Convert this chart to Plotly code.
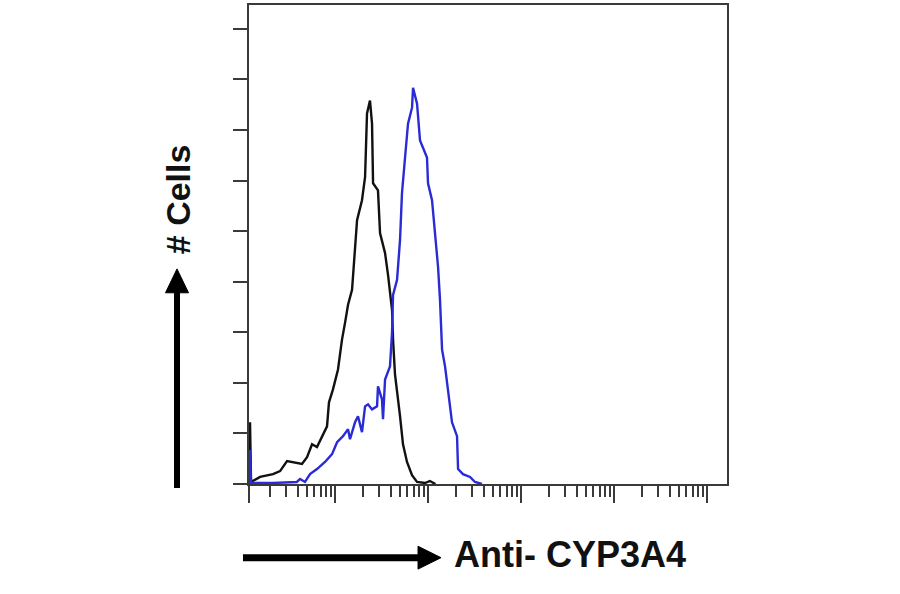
import numpy as np
import plotly.graph_objects as go

# ---- data (log10 fluorescence intensity, cell counts) ----
control_log_intensity = [0.086, 0.086, 0.097, 0.194, 0.333, 0.409, 0.484, 0.548, 0.645, 0.699,
                         0.753, 0.806, 0.860, 0.914, 0.935, 0.978, 1.032, 1.075, 1.108, 1.140,
                         1.183, 1.215, 1.237, 1.290, 1.323, 1.344, 1.376, 1.398, 1.409, 1.462,
                         1.484, 1.538, 1.570, 1.613, 1.624, 1.645, 1.667, 1.699, 1.731, 1.774,
                         1.828, 1.882, 1.968, 2.02, 2.08]
control_counts = [0, 24.4, 0.8, 2.8, 3.9, 5.1, 9.1, 8.7, 7.9, 10.6,
                  15.7, 14.6, 18.9, 22.8, 32.3, 37.4, 45.3, 57.1, 63.8, 70.9,
                  76.8, 95, 104.3, 112.2, 121.3, 146.5, 151.6, 142.5, 118.9, 116.1,
                  99.2, 91.3, 82.7, 68.9, 57.1, 43.3, 37.4, 26.8, 15.7, 8.7,
                  3.5, 0.8, 0.4, 1.2, 0]

cyp3a4_log_intensity = [0.086, 0.086, 0.097, 0.333, 0.59, 0.624, 0.677, 0.731, 0.806, 0.892,
                        0.968, 1.022, 1.086, 1.140, 1.161, 1.215, 1.247, 1.290, 1.323, 1.355,
                        1.398, 1.452, 1.462, 1.505, 1.516, 1.538, 1.591, 1.613, 1.624, 1.667,
                        1.699, 1.720, 1.753, 1.785, 1.828, 1.839, 1.882, 1.892, 1.914, 1.989,
                        2.0, 2.043, 2.075, 2.108, 2.129, 2.151, 2.183, 2.215, 2.258, 2.312,
                        2.323, 2.376, 2.452, 2.505, 2.58]
cyp3a4_counts = [0, 13.4, 0.4, 0.4, 0.8, 2, 0.8, 3.9, 5.9, 8.7,
                 11.8, 16.5, 18.9, 21.7, 17.7, 24.4, 26.8, 20.5, 30.7, 31.5,
                 29.5, 30.7, 38.6, 33.5, 25.6, 41.3, 46.5, 59.8, 74.8, 80.7,
                 96.5, 115, 129.1, 142.5, 148.8, 156.7, 150.4, 146.5, 135.8, 129.1,
                 118.9, 112.2, 100.4, 85.8, 72.8, 53.1, 46.5, 37.4, 24.4, 18.9,
                 5.9, 3.9, 2.8, 0.8, 0]

x_major_ticks = [1e1, 1e2, 1e3, 1e4, 1e5]
x_minor_ticks = [m * 10 ** d for d in range(0, 6) for m in range(2, 10)]
y_ticks = [0, 20, 40, 60, 80, 100, 120, 140, 160, 180]
x_log_range = [0.075, 5.215]
y_range = [0, 189.4]

x_label = "Anti- CYP3A4"
y_label = "# Cells"

fig = go.Figure()
fig.add_trace(go.Scatter(
    x=10 ** np.array(control_log_intensity), y=control_counts, mode="lines",
    line=dict(color="#111111", width=2.4), showlegend=False, hoverinfo="skip"))
fig.add_trace(go.Scatter(
    x=10 ** np.array(cyp3a4_log_intensity), y=cyp3a4_counts, mode="lines",
    line=dict(color="#2b2bd6", width=2.4), showlegend=False, hoverinfo="skip"))

axis_color = "#3a3a3a"
fig.update_layout(
    width=900, height=594,
    margin=dict(l=249, r=173, t=3, b=110),
    paper_bgcolor="white", plot_bgcolor="white",
    xaxis=dict(type="log", range=x_log_range, showgrid=False, zeroline=False,
               showline=True, linecolor=axis_color, linewidth=2, mirror=True,
               tickmode="array", tickvals=x_major_ticks + [10 ** x_log_range[0]],
               ticks="outside", ticklen=17, tickwidth=2, tickcolor=axis_color,
               showticklabels=False,
               minor=dict(tickmode="array", tickvals=x_minor_ticks, ticks="outside",
                          ticklen=11, tickwidth=1.5, tickcolor=axis_color, showgrid=False)),
    yaxis=dict(range=y_range, showgrid=False, zeroline=False,
               showline=True, linecolor=axis_color, linewidth=2, mirror=True,
               tickmode="array", tickvals=y_ticks, ticks="outside", ticklen=14,
               tickwidth=2, tickcolor=axis_color, showticklabels=False),
)

font = dict(family="Liberation Sans, Arial, sans-serif", size=36, color="#111111")
fig.add_annotation(text="<b>%s</b>" % x_label, xref="paper", yref="paper",
                   x=0.4247, y=-0.1476, xanchor="left", yanchor="middle",
                   showarrow=False, font=font)
fig.add_annotation(text="<b>%s</b>" % y_label, xref="paper", yref="paper",
                   x=-0.1485, y=0.5946, xanchor="center", yanchor="middle",
                   textangle=-90, showarrow=False, font=dict(font, size=34))

# horizontal arrow
fig.add_shape(type="line", xref="paper", yref="paper", x0=-0.0126, x1=0.36,
              y0=-0.1538, y1=-0.1538, line=dict(color="black", width=7))
fig.add_shape(type="path", xref="paper", yref="paper",
              path="M 0.3536,-0.1299 L 0.4017,-0.1538 L 0.3536,-0.1777 Z",
              fillcolor="black", line=dict(color="black", width=1))
# vertical arrow
fig.add_shape(type="line", xref="paper", yref="paper", x0=-0.1506, x1=-0.1506,
              y0=-0.0083, y1=0.405, line=dict(color="black", width=6))
fig.add_shape(type="path", xref="paper", yref="paper",
              path="M -0.1747,0.3992 L -0.1506,0.4491 L -0.1265,0.3992 Z",
              fillcolor="black", line=dict(color="black", width=1))

fig.write_html("out.html", config={"displayModeBar": False},
               post_script="document.body.style.margin='0px';")
